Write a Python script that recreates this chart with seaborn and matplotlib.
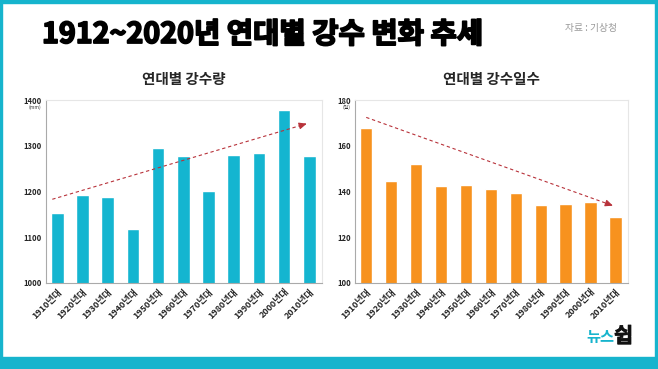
import seaborn as sns
import pandas as pd
import matplotlib.pyplot as plt
import matplotlib.patheffects as pe
from matplotlib.patches import Rectangle

decades = ['1910년대', '1920년대', '1930년대', '1940년대', '1950년대', '1960년대',
           '1970년대', '1980년대', '1990년대', '2000년대', '2010년대']
amount = [1154, 1192, 1189, 1118, 1296, 1278, 1202, 1280, 1285, 1378, 1277]
days = [167.6, 144.6, 151.9, 142.5, 142.8, 141.1, 139.2, 134.2, 134.4, 135.6, 129.0]
# dashed trend arrows (start, end)
trend_amount = [1183, 1350]
trend_days = [172.4, 133.4]

df = pd.DataFrame({'decade': decades, 'amount': amount, 'days': days})

sns.set_style('white')
plt.rcParams['font.family'] = ['Noto Sans CJK KR', 'DejaVu Sans']

W, H = 658, 369
fig = plt.figure(figsize=(W / 100, H / 100), dpi=100)
fig.patch.set_facecolor('white')

teal = '#16b4cd'
arrow_c = '#b8323a'

# frame
fig.patches.append(Rectangle((0, 0), 1, 12 / H, transform=fig.transFigure, color=teal, zorder=0))
fig.patches.append(Rectangle((0, 0), 2 / W, 1, transform=fig.transFigure, color=teal, zorder=0))
fig.patches.append(Rectangle((1 - 3 / W, 0), 3 / W, 1, transform=fig.transFigure, color=teal, zorder=0))
fig.patches.append(Rectangle((0, 1 - 3 / H), 1, 3 / H, transform=fig.transFigure, color=teal, zorder=0))


def panel(x0, x1, col, color, ylim, yticks, unit, sub, trend, tx0):
    w = x1 - x0
    ax = fig.add_axes([x0 / W, (H - 283) / H, w / W, 183 / H])
    sns.barplot(ax=ax, data=df, x='decade', y=col, color=color, width=0.5,
                saturation=1)
    ax.set_ylim(*ylim)
    ax.set_xlim(-0.45, 10.5)
    ax.set_yticks(yticks)
    ax.set_yticklabels([str(t) for t in yticks], fontsize=5.5, fontweight='bold')
    ax.set_xticks(range(len(decades)))
    ax.set_xticklabels(decades, rotation=45, ha='right', rotation_mode='anchor',
                       fontsize=6.5, fontweight='bold')
    ax.tick_params(length=0, pad=3)
    ax.set_xlabel('')
    ax.set_ylabel('')
    for s in ['left', 'bottom']:
        ax.spines[s].set_color('#aaaaaa')
        ax.spines[s].set_linewidth(0.8)
    for s in ['top', 'right']:
        ax.spines[s].set_color('#e6e6e6')
        ax.spines[s].set_linewidth(0.8)
    lab_w = 4 * len(str(yticks[-1]))
    ax.text(-(3 + lab_w / 2) / w, 1 - 5 / 183, unit, transform=ax.transAxes,
            ha='center', va='top', fontsize=3.5, color='#333333')
    ax.text(0.5, 1.07, sub, transform=ax.transAxes, ha='center', va='bottom',
            fontsize=10.5, fontweight='bold')
    ax.plot([tx0, 9.85], [trend[0], trend[0] + (trend[1] - trend[0]) * (9.85 - tx0) / (10 - tx0)],
            linestyle=(0, (3, 2.5)), color=arrow_c, lw=0.8, zorder=5)
    ax.annotate('', xy=(10, trend[1]),
                xytext=(9.7, trend[0] + (trend[1] - trend[0]) * (9.7 - tx0) / (10 - tx0)),
                arrowprops=dict(arrowstyle='-|>,head_length=0.45,head_width=0.2',
                                color=arrow_c, lw=0.8), zorder=6)
    return ax


panel(46, 322, 'amount', '#14b5d0', (1000, 1400), [1000, 1100, 1200, 1300, 1400],
      '(mm)', '연대별 강수량', trend_amount, -0.2)
panel(355, 628, 'days', '#f7921e', (100, 180), [100, 120, 140, 160, 180],
      '(일)', '연대별 강수일수', trend_days, 0)

fig.text(42 / W, 1 - 34 / H, '1912~2020년 연대별 강수 변화 추세', fontsize=20.6,
         fontweight='bold', ha='left', va='center', color='black',
         path_effects=[pe.withStroke(linewidth=1.3, foreground='black')])
fig.text(617 / W, 1 - 28 / H, '자료 : 기상청', fontsize=7, color='#999999',
         ha='right', va='center')
fig.text(614 / W, 1 - 337 / H, '뉴스', fontsize=11, fontweight='bold', style='italic',
         color=teal, ha='right', va='center')
fig.text(614 / W, 1 - 336 / H, '쉽', fontsize=15, fontweight='bold', style='italic',
         color='#111111', ha='left', va='center',
         path_effects=[pe.withStroke(linewidth=0.6, foreground='#111111')])

fig.savefig('out.png', dpi=100, facecolor='white')
